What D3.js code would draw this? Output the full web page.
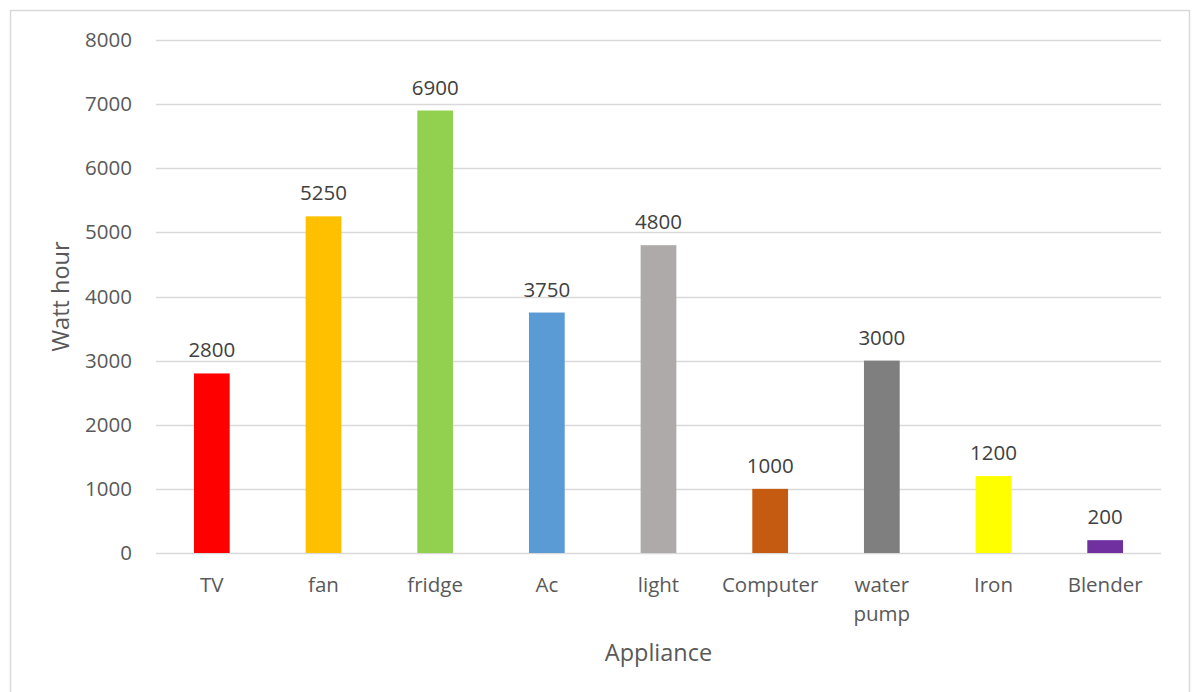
<!DOCTYPE html>
<html>
<head>
<meta charset="utf-8">
<script src="https://cdn.jsdelivr.net/npm/d3@7"></script>
<style>
  html, body { margin: 0; padding: 0; background: #fff; }
  svg { display: block; font-family: "Open Sans", "Noto Sans", sans-serif; }
</style>
</head>
<body>
<svg id="chart" width="1192" height="692"></svg>
<script>
// Daily energy use per appliance
const appliances = ["TV", "fan", "fridge", "Ac", "light", "Computer", "water pump", "Iron", "Blender"];
const wattHours = [2800, 5250, 6900, 3750, 4800, 1000, 3000, 1200, 200];
const barColors = ["#FF0000", "#FFC000", "#92D050", "#5B9BD5", "#AEAAAA", "#C55A11", "#7F7F7F", "#FFFF00", "#7030A0"];
const yTicks = [0, 1000, 2000, 3000, 4000, 5000, 6000, 7000, 8000];

const svg = d3.select("#chart");
const W = 1192, H = 692;
const plot = { left: 156, right: 1161, top: 40, bottom: 553 };
const labelSize = 20.5;

// Outer frame
svg.append("rect")
  .attr("x", 10.5).attr("y", 10.5)
  .attr("width", W - 13).attr("height", H)
  .attr("fill", "#fff").attr("stroke", "#D9D9D9").attr("stroke-width", 1.5);

const x = d3.scaleBand().domain(appliances).range([plot.left, plot.right]).paddingInner(0.68).paddingOuter(0.34);
const y = d3.scaleLinear().domain([0, 8000]).range([plot.bottom, plot.top]);

// Gridlines
svg.append("g").selectAll("line").data(yTicks).join("line")
  .attr("x1", plot.left).attr("x2", plot.right)
  .attr("y1", d => Math.round(y(d)) + 0.5).attr("y2", d => Math.round(y(d)) + 0.5)
  .attr("stroke", "#D9D9D9").attr("stroke-width", 1.5);

// Y axis labels
const yAxis = d3.axisLeft(y).tickValues(yTicks).tickSize(0).tickPadding(0).tickFormat(d3.format("d"));
const gy = svg.append("g").attr("transform", `translate(${plot.left - 24},0)`).call(yAxis);
gy.select(".domain").remove();
gy.selectAll("text").attr("fill", "#595959").attr("font-size", labelSize).attr("font-family", "'Open Sans', sans-serif");

// Bars
svg.append("g").selectAll("rect").data(appliances).join("rect")
  .attr("x", d => x(d))
  .attr("width", x.bandwidth())
  .attr("y", (d, i) => y(wattHours[i]))
  .attr("height", (d, i) => y(0) - y(wattHours[i]))
  .attr("fill", (d, i) => barColors[i]);

// Value labels
svg.append("g").selectAll("text").data(appliances).join("text")
  .attr("x", d => x(d) + x.bandwidth() / 2)
  .attr("y", (d, i) => y(wattHours[i]) - 16)
  .attr("text-anchor", "middle")
  .attr("fill", "#404040").attr("font-size", labelSize)
  .text((d, i) => wattHours[i]);

// X category labels (wrapped onto two lines where needed)
const xl = svg.append("g").selectAll("text").data(appliances).join("text")
  .attr("x", d => x(d) + x.bandwidth() / 2)
  .attr("y", 592)
  .attr("text-anchor", "middle")
  .attr("fill", "#595959").attr("font-size", labelSize);
xl.each(function(d) {
  const words = d === "water pump" ? d.split(" ") : [d];
  const t = d3.select(this);
  words.forEach((w, k) => {
    t.append("tspan").attr("x", t.attr("x")).attr("dy", k === 0 ? 0 : 29).text(w);
  });
});

// Axis titles
svg.append("text")
  .attr("x", (plot.left + plot.right) / 2).attr("y", 661)
  .attr("text-anchor", "middle").attr("fill", "#595959").attr("font-size", 23.5)
  .text("Appliance");
svg.append("text")
  .attr("transform", `translate(69,${(plot.top + plot.bottom) / 2}) rotate(-90)`)
  .attr("text-anchor", "middle").attr("fill", "#595959").attr("font-size", 23.5)
  .text("Watt hour");
</script>
</body>
</html>
